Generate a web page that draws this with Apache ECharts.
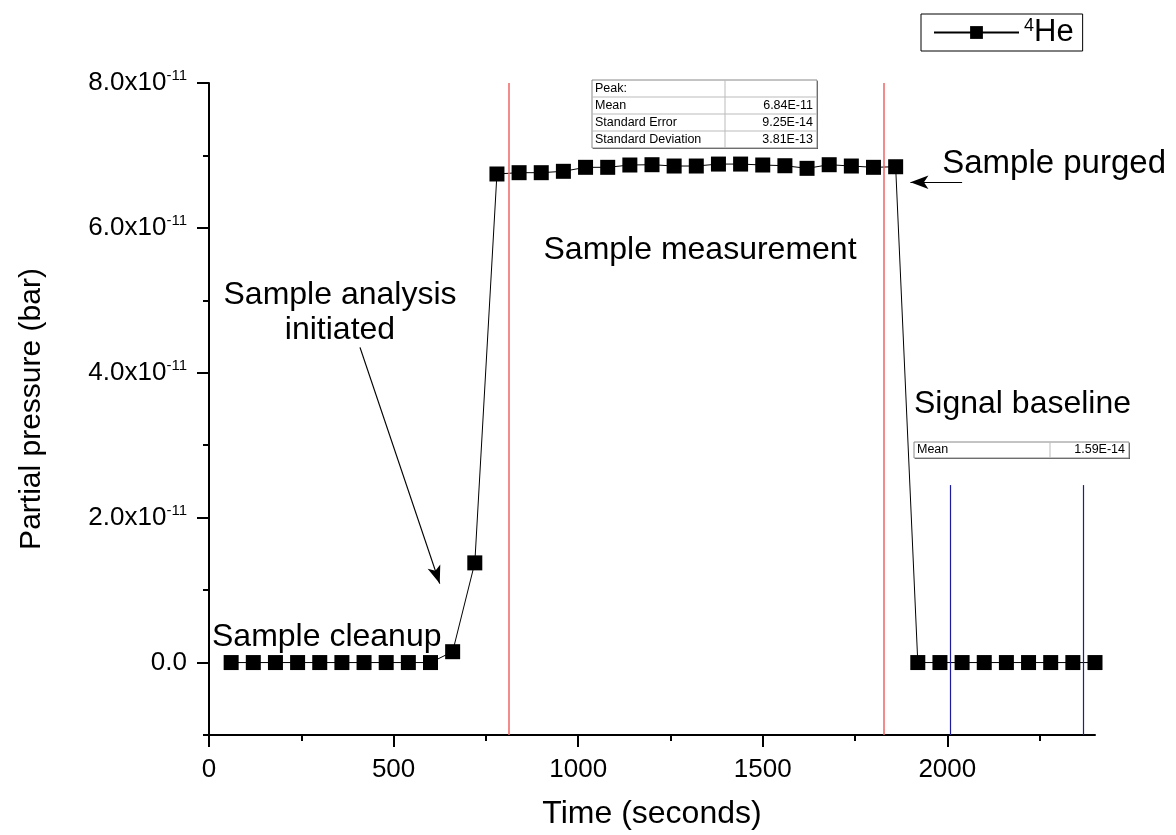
<!DOCTYPE html>
<html>
<head>
<meta charset="utf-8">
<script src="https://cdn.jsdelivr.net/npm/echarts@6/dist/echarts.min.js"></script>
<style>
html,body{margin:0;padding:0;background:#fff;}
#chart{width:1176px;height:835px;}
</style>
</head>
<body>
<div id="chart"></div>
<script>
// ---- data ----
const timeSeconds = [60,120,180,240,300,360,420,480,540,600,
  660,720,780,840,900,960,1020,1080,1140,1200,1260,1320,1380,1440,1500,1560,1620,1680,1740,1800,1860,
  1920,1980,2040,2100,2160,2220,2280,2340,2400];
const he4Pressure = [0,0,0,0,0,0,0,0,0,0,
  0.15e-11,1.376e-11,6.744e-11,6.762e-11,6.762e-11,6.781e-11,6.836e-11,6.836e-11,6.868e-11,6.872e-11,
  6.854e-11,6.854e-11,6.881e-11,6.881e-11,6.868e-11,6.858e-11,6.822e-11,6.872e-11,6.854e-11,6.836e-11,6.844e-11,
  0,0,0,0,0,0,0,0,0];
const xMajorTicks = [0,500,1000,1500,2000];
const xMinorTicks = [250,750,1250,1750,2250];
const yMajorTicks = [0,2e-11,4e-11,6e-11,8e-11];
const yMinorTicks = [-1e-11,1e-11,3e-11,5e-11,7e-11];
const peakWindow = [813,1828];      // red lines
const baselineWindow = [2008,2368]; // blue lines
const baselineLineTop = 2.45e-11;
const peakStats = [["Peak:",""],["Mean","6.84E-11"],["Standard Error","9.25E-14"],["Standard Deviation","3.81E-13"]];
const baselineStats = [["Mean","1.59E-14"]];

const FONT = "'Liberation Sans', Arial, sans-serif";
const chart = echarts.init(document.getElementById('chart'));

function table(x, y, w, split, rowH, rows){
  const ch = [];
  const h = rowH*rows.length;
  ch.push({type:'rect', shape:{x:x+1,y:y+1,width:w,height:h}, style:{fill:'#555'}, silent:true});
  ch.push({type:'rect', shape:{x:x,y:y,width:w,height:h}, style:{fill:'#fff',stroke:'#888',lineWidth:1}, silent:true});
  ch.push({type:'line', shape:{x1:split,y1:y,x2:split,y2:y+h}, style:{stroke:'#bbb',lineWidth:1}});
  rows.forEach((r,i)=>{
    if(i>0) ch.push({type:'line', shape:{x1:x,y1:y+i*rowH,x2:x+w,y2:y+i*rowH}, style:{stroke:'#bbb',lineWidth:1}});
    ch.push({type:'text', x:x+3, y:y+i*rowH+rowH/2, style:{text:r[0], font:'12.5px '+FONT, fill:'#000', textVerticalAlign:'middle'}});
    ch.push({type:'text', x:x+w-4, y:y+i*rowH+rowH/2, style:{text:r[1], font:'12.5px '+FONT, fill:'#000', textAlign:'right', textVerticalAlign:'middle'}});
  });
  return {type:'group', children:ch, z:50};
}

const yLabelFmt = v => {
  const m = Math.round(v/1e-12)/10;
  if (Math.abs(m) < 1e-9) return '{b|0.0}';
  return '{b|' + m.toFixed(1) + 'x10}{s|-11}';
};
const labelRich = {
  b:{fontSize:26, fontFamily:FONT, color:'#000'},
  s:{fontSize:15, fontFamily:FONT, color:'#000', verticalAlign:'top', padding:[0,0,14,0]}
};

const annoStyle = (t, x, y, align, size) => ({type:'text', x:x, y:y, z:40,
  style:{text:t, font:(size||32)+'px '+FONT, fill:'#000', textAlign:align||'left', textVerticalAlign:'middle'}});

const option = {
  animation:false,
  grid:{left:209, right:81, top:83, bottom:98},
  legend:{
    left:921, top:14, padding:[3,9,3,12], borderColor:'#000', borderWidth:1,
    itemWidth:85, itemHeight:16, itemGap:8,
    data:['He4'],
    formatter:()=> '{s|4}{n|He}',
    textStyle:{rich:{
      s:{fontSize:18, fontFamily:FONT, color:'#000', verticalAlign:'top', padding:[0,0,12,0]},
      n:{fontSize:31, fontFamily:FONT, color:'#000'}
    }}
  },
  xAxis:[{
    type:'value', min:0, max:2400,
    axisLine:{onZero:false, lineStyle:{color:'#000', width:2}},
    axisTick:{show:true, customValues:xMajorTicks, length:12, lineStyle:{color:'#000', width:2}},
    axisLabel:{customValues:xMajorTicks, formatter:v=>String(v), fontSize:26, fontFamily:FONT, color:'#000', margin:22},
    splitLine:{show:false},
    name:'Time (seconds)', nameLocation:'middle', nameGap:63,
    nameTextStyle:{fontSize:32, fontFamily:FONT, color:'#000'}
  },{
    type:'value', min:0, max:2400, position:'bottom',
    axisLine:{show:false, onZero:false},
    axisTick:{show:true, customValues:xMinorTicks, length:6, lineStyle:{color:'#000', width:2}},
    axisLabel:{show:false}, splitLine:{show:false}
  }],
  yAxis:[{
    type:'value', min:-1e-11, max:8e-11,
    axisLine:{show:true, onZero:false, lineStyle:{color:'#000', width:2}},
    axisTick:{show:true, customValues:yMajorTicks, length:12, lineStyle:{color:'#000', width:2}},
    axisLabel:{customValues:yMajorTicks, formatter:yLabelFmt, rich:labelRich, margin:22},
    splitLine:{show:false},
    name:'Partial pressure (bar)', nameLocation:'middle', nameGap:162, nameRotate:90,
    nameTextStyle:{fontSize:30, fontFamily:FONT, color:'#000'}
  },{
    type:'value', min:-1e-11, max:8e-11, position:'left',
    axisLine:{show:false, onZero:false},
    axisTick:{show:true, customValues:yMinorTicks, length:6, lineStyle:{color:'#000', width:2}},
    axisLabel:{show:false}, splitLine:{show:false}
  }],
  series:[{
    name:'He4', type:'line',
    data: timeSeconds.map((t,i)=>[t, he4Pressure[i]]),
    symbol:'rect', symbolSize:15,
    itemStyle:{color:'#000'},
    lineStyle:{color:'#000', width:1},
    clip:true,
    markLine:{
      silent:true, symbol:['none','none'], label:{show:false},
      lineStyle:{type:'solid'},
      emphasis:{disabled:true},
      data:[
        [{coord:[peakWindow[0],-1e-11], lineStyle:{color:'#f06464', width:1.5, type:'solid'}}, {coord:[peakWindow[0],8e-11]}],
        [{coord:[peakWindow[1],-1e-11], lineStyle:{color:'#f06464', width:1.5, type:'solid'}}, {coord:[peakWindow[1],8e-11]}],
        [{coord:[baselineWindow[0],-1e-11], lineStyle:{color:'#1c1c9c', width:1.2, type:'solid'}}, {coord:[baselineWindow[0],baselineLineTop]}],
        [{coord:[baselineWindow[1],-1e-11], lineStyle:{color:'#1c1c9c', width:1.2, type:'solid'}}, {coord:[baselineWindow[1],baselineLineTop]}],
        [{coord:[409,4.35e-11], symbol:'none', lineStyle:{color:'#000', width:1.2, type:'solid'}}, {coord:[625,1.09e-11], symbol:'arrow', symbolSize:[10,18]}],
        [{coord:[2040,6.63e-11], symbol:'none', lineStyle:{color:'#000', width:1.2, type:'solid'}}, {coord:[1900,6.63e-11], symbol:'arrow', symbolSize:[10,18]}]
      ]
    }
  }],
  graphic:[
    annoStyle('Sample cleanup', 212, 637),
    annoStyle('Sample analysis', 340, 295, 'center'),
    annoStyle('initiated', 340, 330, 'center'),
    annoStyle('Sample measurement', 700, 250, 'center'),
    annoStyle('Sample purged', 1166, 164, 'right', 33),
    annoStyle('Signal baseline', 914, 404),
    table(592, 80, 225, 725, 17, peakStats),
    table(914, 442, 215, 1050, 16, baselineStats)
  ]
};
chart.setOption(option);
</script>
</body>
</html>
